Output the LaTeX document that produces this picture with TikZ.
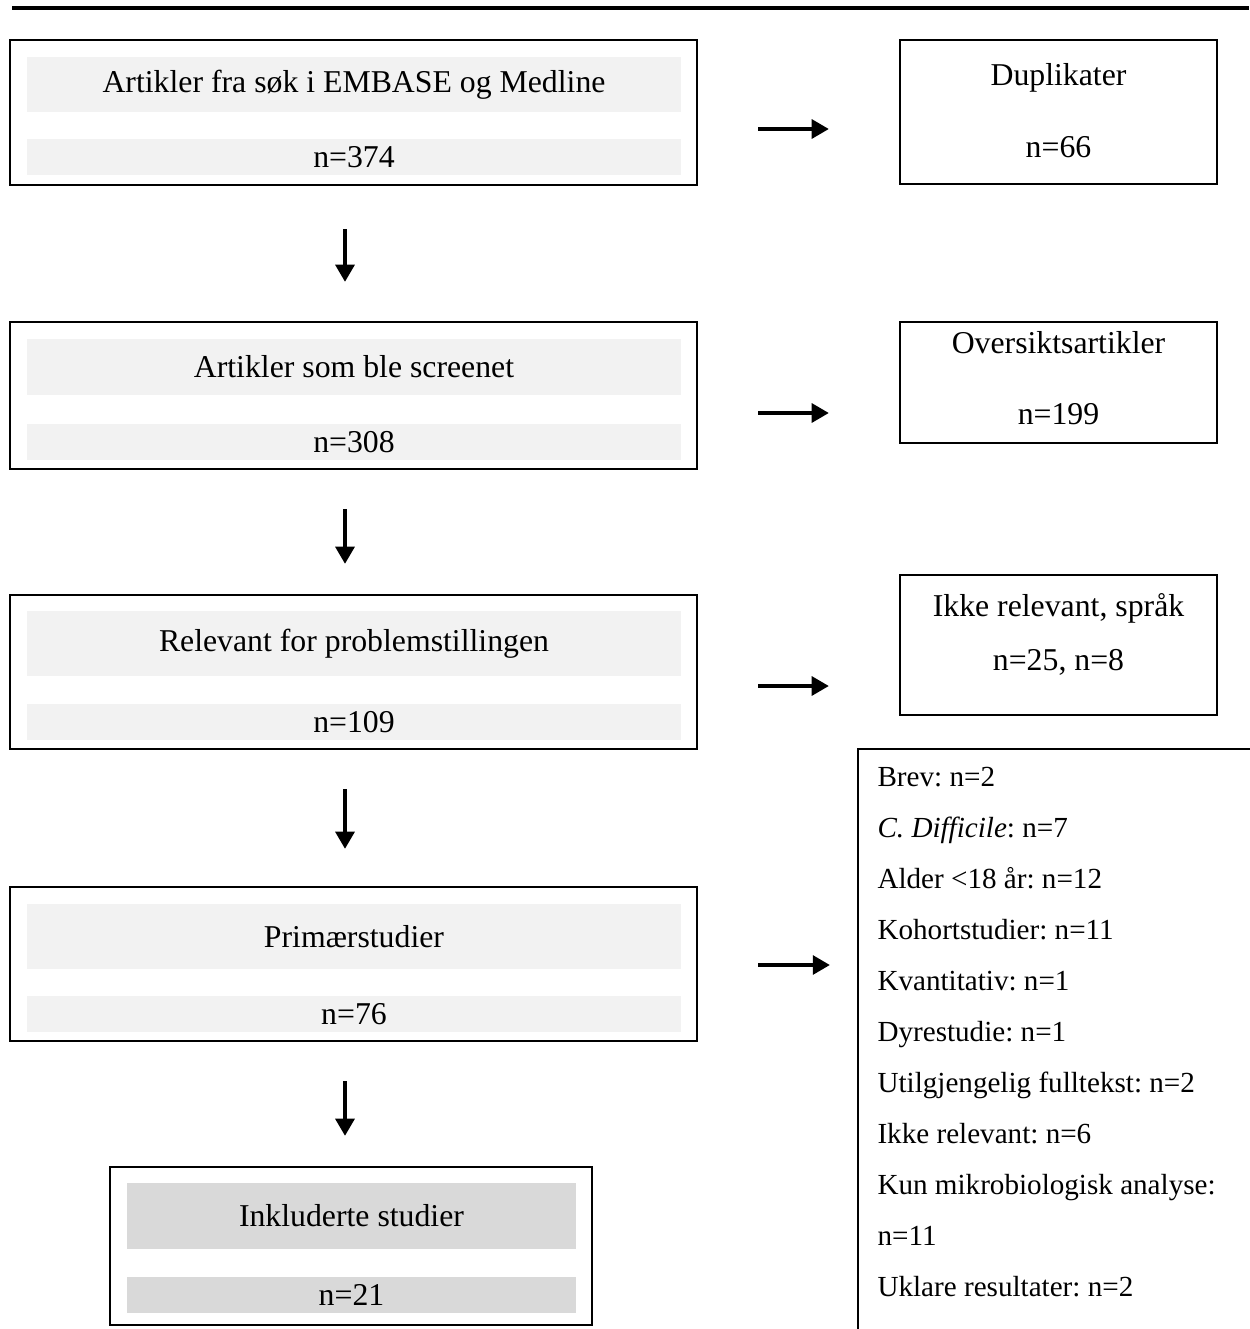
\documentclass[tikz,border=0pt]{standalone}
\usepackage{fontspec}
\setmainfont{Liberation Serif}
\usetikzlibrary{arrows.meta, positioning, calc}
\newcommand{\pix}{0.01327cm}
\frenchspacing

\begin{document}
\begin{tikzpicture}[x=\pix, y=-\pix, font=\fontsize{12pt}{14pt}\selectfont,
		box/.style={rectangle, draw, line width=0.8pt, inner sep=0pt},
		bar/.style={rectangle, fill=black!5, minimum width=654*\pix, inner sep=0pt},
		arr/.style={-{Triangle[length=6.5pt, width=7pt]}, line width=1.8pt}]
		\useasboundingbox (0,0) rectangle (1249,1329);
		
		% --- Trait du haut ---
		\draw[line width=1.5pt] (12,8) -- (1249,8);
		
		% --- Colonne de GAUCHE ---
		\node[box, minimum width=687*\pix, minimum height=145*\pix] (search) at (353.5,112.5) {};
		\node[bar, minimum height=55*\pix] (search_t) at (354,84.5) {Artikler fra søk i EMBASE og Medline};
		\node[bar, minimum height=36*\pix] (search_n) at (354,157) {n=374};
		
		\node[box, minimum width=687*\pix, minimum height=147*\pix] (screen) at (353.5,395.5) {};
		\node[bar, minimum height=56*\pix] (screen_t) at (354,367) {Artikler som ble screenet};
		\node[bar, minimum height=36*\pix] (screen_n) at (354,442) {n=308};
		
		\node[box, minimum width=687*\pix, minimum height=154*\pix] (rel) at (353.5,672) {};
		\node[bar, minimum height=65*\pix] (rel_t) at (354,643.5) {Relevant for problemstillingen};
		\node[bar, minimum height=36*\pix] (rel_n) at (354,722) {n=109};
		
		\node[box, minimum width=687*\pix, minimum height=154*\pix] (prim) at (353.5,964) {};
		\node[bar, minimum height=65*\pix] (prim_t) at (354,936.5) {Primærstudier};
		\node[bar, minimum height=36*\pix] (prim_n) at (354,1014) {n=76};
		
		\node[box, minimum width=482*\pix, minimum height=158*\pix] (incl) at (351,1246) {};
		\node[bar, fill=black!15, minimum width=449*\pix, minimum height=66*\pix] (incl_t) at (351.5,1216) {Inkluderte studier};
		\node[bar, fill=black!15, minimum width=449*\pix, minimum height=36*\pix] (incl_n) at (351.5,1295) {n=21};
		
		% --- Colonne de DROITE ---
		\node[box, minimum width=317*\pix, minimum height=144*\pix] (dup) at (1058.5,112) {};
		\node[anchor=base] (dup_t) at (1058.5,85) {Duplikater};
		\node[anchor=base] (dup_n) at (1058.5,157) {n=66};
		
		\node[box, minimum width=317*\pix, minimum height=121*\pix] (over) at (1058.5,382.5) {};
		\node[anchor=base] (over_t) at (1058.5,353) {Oversiktsartikler};
		\node[anchor=base] (over_n) at (1058.5,424) {n=199};
		
		\node[box, minimum width=317*\pix, minimum height=140*\pix] (lang) at (1058.5,645) {};
		\node[anchor=base] (lang_t) at (1058.5,616) {Ikke relevant, språk};
		\node[anchor=base] (lang_n) at (1058.5,670) {n=25, n=8};
		
		\node[box, anchor=north west, minimum width=430*\pix, minimum height=620*\pix] (excl) at (857,748) {};
		\foreach \txt [count=\k from 0] in {Brev: n=2, \textit{C. Difficile}: n=7, Alder <18 år: n=12,
			Kohortstudier: n=11, Kvantitativ: n=1, Dyrestudie: n=1, Utilgjengelig fulltekst: n=2,
			Ikke relevant: n=6, Kun mikrobiologisk analyse:, n=11, Uklare resultater: n=2} {
			\node[anchor=base west, inner sep=0pt, font=\fontsize{11pt}{13pt}\selectfont] (excl_\k) at (877,786+51*\k) {\txt};
		}
		
		% --- Flèches vers le bas ---
		\coordinate (axis) at (345,0);
		\draw[arr] ($(search.south -| axis)+(0,43)$) -- ($(screen.north -| axis)+(0,-39)$);
		\draw[arr] ($(screen.south -| axis)+(0,39)$) -- ($(rel.north -| axis)+(0,-30)$);
		\draw[arr] ($(rel.south -| axis)+(0,39)$) -- ($(prim.north -| axis)+(0,-37)$);
		\draw[arr] ($(prim.south -| axis)+(0,39)$) -- ($(incl.north -| axis)+(0,-30)$);
		
		% --- Flèches vers la droite ---
		\draw[arr] ($(search.east)+(60,16.5)$) -- ($(search.east -| dup.west)+(-70,16.5)$);
		\draw[arr] ($(screen.east)+(60,17.5)$) -- ($(screen.east -| over.west)+(-70,17.5)$);
		\draw[arr] ($(rel.east)+(60,14)$) -- ($(rel.east -| lang.west)+(-70,14)$);
		\draw[arr] ($(prim.east)+(60,1)$) -- ($(prim.east -| excl.west)+(-27,1)$);
		
	\end{tikzpicture}
\end{document}
